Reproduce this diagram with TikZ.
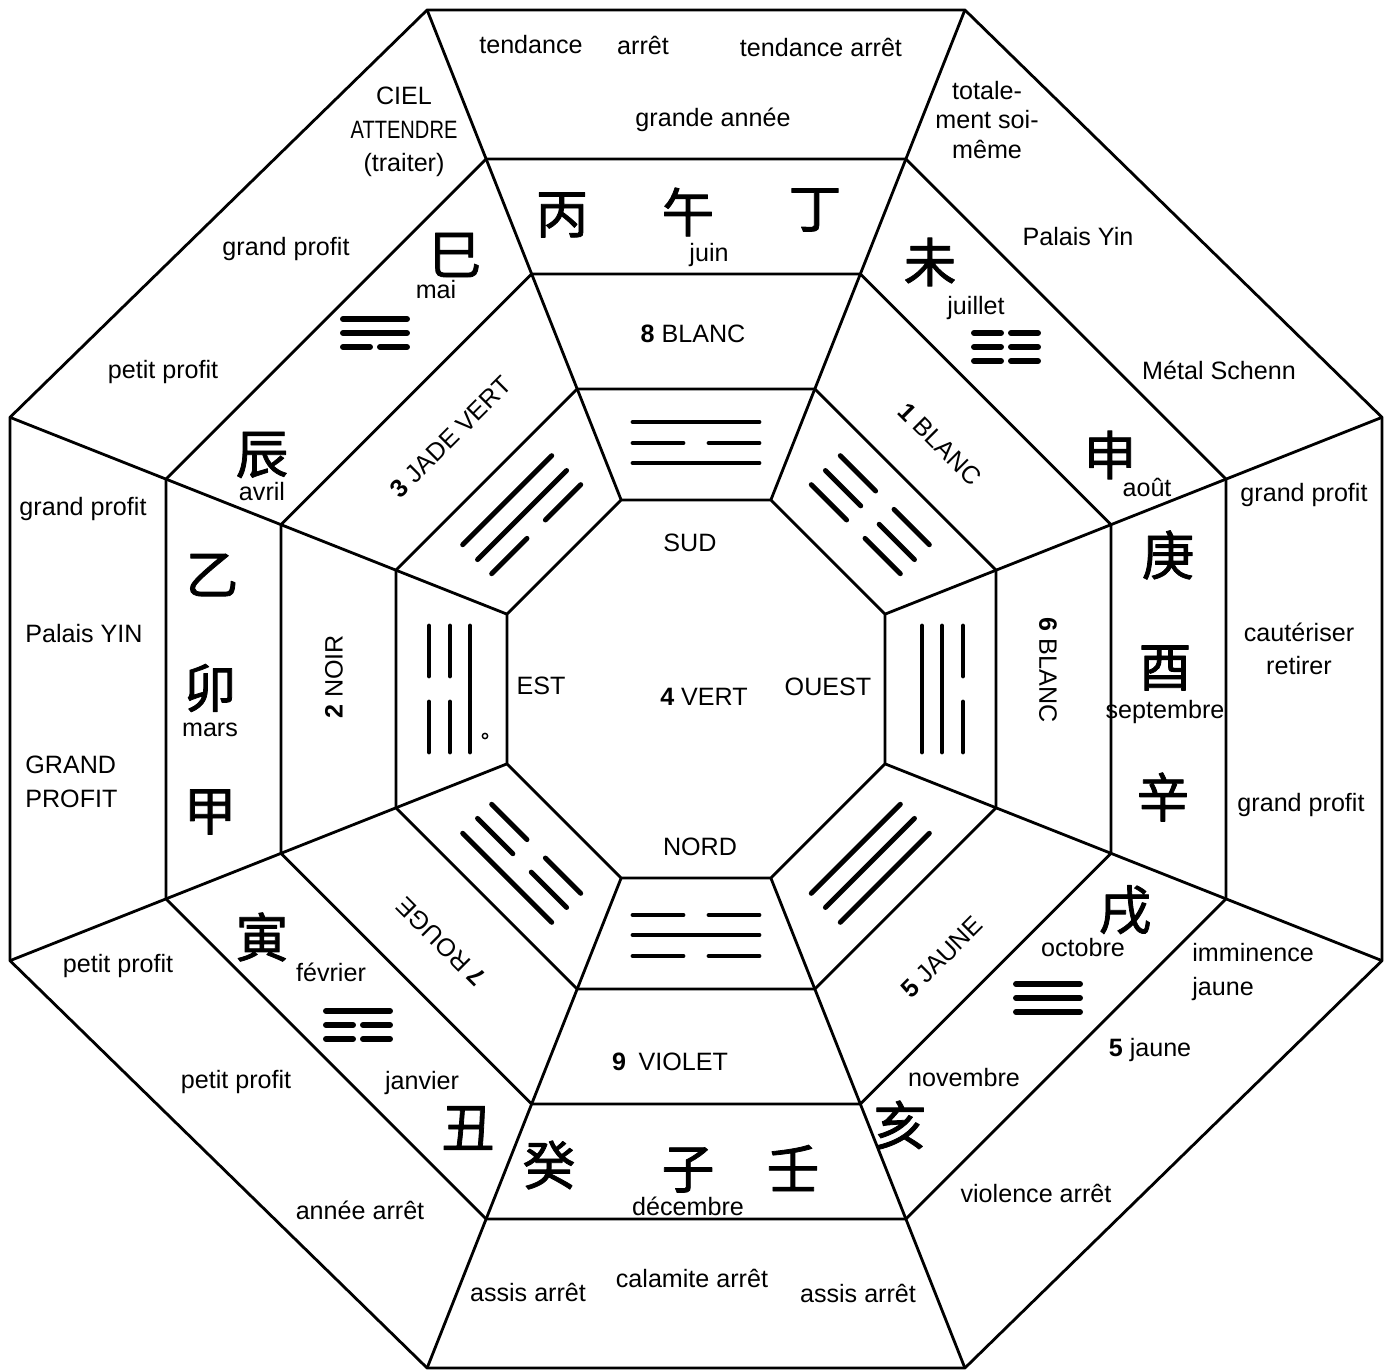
\documentclass[tikz,border=0pt]{standalone}
\usepackage{fontspec}
\setmainfont{Liberation Sans}
\newfontfamily\hanfont[FakeBold=1.5]{Noto Sans CJK SC}
\usetikzlibrary{positioning}

\newcommand{\octa}[2]{({-0.396*#2},-#2) -- ({0.396*#2},-#2) -- (#1,{-0.396*#1}) -- (#1,{0.396*#1}) -- ({0.396*#2},#2) -- ({-0.396*#2},#2) -- (-#1,{0.396*#1}) -- (-#1,{-0.396*#1}) -- cycle}

\newcommand{\yao}[2]{%
    \ifnum#2=1
        \draw [yao] (#1,-63) -- (#1,63);
    \else
        \draw [yao] (#1,-63) -- (#1,-13) (#1,13) -- (#1,63);
    \fi}

\newcommand{\trigram}[4]{%
    \begin{scope}[rotate=#1]
        \yao{226}{#2}\yao{246}{#3}\yao{267}{#4}
    \end{scope}}

\newcommand{\smalltrigram}[5]{%
    \begin{scope}[shift={(#1,#2)}]
        \foreach \dy/\s in {-14/#3,0/#4,14/#5} {
            \ifnum\s=1
                \draw [smallyao] (-32,\dy) -- (32,\dy);
            \else
                \draw [smallyao] (-32,\dy) -- (-5,\dy) (5,\dy) -- (32,\dy);
            \fi
        }
    \end{scope}}

\begin{document}
\begin{tikzpicture}[x=0.02cm, y=-0.02cm, line join=round, node distance=0.8cm]
    \tikzstyle{ring} = [line width=1.6pt]
    \tikzstyle{yao} = [line width=2.8pt, line cap=round]
    \tikzstyle{smallyao} = [line width=3.4pt, line cap=round]
    \tikzstyle{txt} = [font=\fontsize{14.3}{19}\selectfont, inner sep=0pt, align=center]
    \tikzstyle{han} = [font=\hanfont\fontsize{30}{30}\selectfont, inner sep=0pt]

    \useasboundingbox (0,0) rectangle (1389,1371);

    \begin{scope}[shift={(696,689)}]
        \foreach \a in {189,300,415,530} \draw [ring] \octa{\a}{\a};
        \draw [ring] \octa{686}{679};
        \foreach \sx in {-1,1} \foreach \sy in {-1,1} {
            \draw [ring] ({\sx*0.396*189},{\sy*189}) -- ({\sx*0.396*679},{\sy*679});
            \draw [ring] ({\sx*189},{\sy*0.396*189}) -- ({\sx*686},{\sy*0.396*686});
        }

        \trigram{90}{1}{0}{1}
        \trigram{45}{0}{0}{0}
        \trigram{0}{1}{1}{0}
        \trigram{-45}{1}{1}{1}
        \trigram{-90}{0}{1}{0}
        \trigram{-135}{0}{0}{1}
        \trigram{180}{1}{0}{0}
        \trigram{135}{0}{1}{1}
    \end{scope}
    \draw [line width=0.8pt] (485,736) circle [radius=1.5pt];

    \smalltrigram{375}{333}{1}{1}{0}
    \smalltrigram{1006}{347}{0}{0}{0}
    \smalltrigram{1048}{998}{1}{1}{1}
    \smalltrigram{358}{1025}{1}{0}{0}

    % centre
    \node [txt] (sud) at (690,543) {SUD};
    \node [txt] (est) at (541,686) {EST};
    \node [txt] (vert4) at (704,697) {\textbf{4} VERT};
    \node [txt] (ouest) at (828,687) {OUEST};
    \node [txt] (nord) at (700,847) {NORD};

    \node [txt] (blanc8) at (693,334) {\textbf{8} BLANC};
    \node [txt, rotate=-45] (blanc1) at (940,444) {\textbf{1} BLANC};
    \node [txt, rotate=-90] (blanc6) at (1048,670) {\textbf{6} BLANC};
    \node [txt, rotate=45] (jaune5) at (942,957) {\textbf{5} JAUNE};
    \node [txt] (violet9) at (670,1062) {\textbf{9}\enspace VIOLET};
    \node [txt, rotate=135] (rouge7) at (441,942) {\textbf{7} ROUGE};
    \node [txt, rotate=90] (noir2) at (334,677) {\textbf{2} NOIR};
    \node [txt, rotate=45] (jade3) at (451,437) {\textbf{3} JADE VERT};

    % caracteres
    \node [han] (bing) at (562,215) {丙};
    \node [han] (wu) at (688,212) {午};
    \node [han] (ding) at (815,210) {丁};
    \node [txt] (juin) at (709,255) {juin};
    \node [han] (wei) at (930,262) {未};
    \node [txt] (juillet) at (976,308) {juillet};
    \node [han] (shen) at (1110,455) {申};
    \node [txt] (aout) at (1147,487) {août};
    \node [han] (geng) at (1168,555) {庚};
    \node [han] (you) at (1165,668) {酉};
    \node [txt, below of=you, node distance=0.88cm] (sept) {septembre};
    \node [han] (xin) at (1163,797) {辛};
    \node [han] (xu) at (1125,910) {戌};
    \node [txt] (oct) at (1083,948) {octobre};
    \node [txt] (nov) at (964,1078) {novembre};
    \node [han] (hai) at (900,1125) {亥};
    \node [han] (ren) at (793,1168) {壬};
    \node [han] (zi) at (688,1170) {子};
    \node [han] (gui) at (549,1165) {癸};
    \node [txt, below of=zi, node distance=0.72cm] (dec) {décembre};
    \node [han] (chou) at (468,1128) {丑};
    \node [txt] (janv) at (422,1083) {janvier};
    \node [han] (yin) at (262,937) {寅};
    \node [txt] (fevr) at (331,972) {février};
    \node [han] (jia) at (210,812) {甲};
    \node [han] (mao) at (210,688) {卯};
    \node [txt, below of=mao, node distance=0.84cm] (mars) {mars};
    \node [han] (yi) at (212,575) {乙};
    \node [han] (chen) at (262,455) {辰};
    \node [txt] (avril) at (262,492) {avril};
    \node [han] (si) at (455,255) {巳};
    \node [txt] (mai) at (436,290) {mai};

    % anneau exterieur
    \node [txt] (tend) at (531,45) {tendance};
    \node [txt] (arret) at (643,45) {arrêt};
    \node [txt] (tendarret) at (821,47) {tendance arrêt};
    \node [txt] (grandeannee) at (713,120) {grande année};
    \node [txt] (ciel) at (404,132) {CIEL\\\scalebox{0.8}[1]{ATTENDRE}\\(traiter)};
    \node [txt] (gpnw) at (286,249) {grand profit};
    \node [txt] (ppnw) at (163,372) {petit profit};
    \node [txt, font=\fontsize{14.3}{17}\selectfont] (totale) at (987,120) {totale-\\ment soi-\\même};
    \node [txt] (palaisyin) at (1078,237) {Palais Yin};
    \node [txt] (metal) at (1219,370) {Métal Schenn};
    \node [txt] (gpe1) at (1304,495) {grand profit};
    \node [txt] (cauter) at (1299,649) {cautériser\\retirer};
    \node [txt] (gpe2) at (1301,805) {grand profit};
    \node [txt, align=left, anchor=west] (immin) at (1192,972) {imminence\\jaune};
    \node [txt] (jaunelow) at (1150,1050) {\textbf{5} jaune};
    \node [txt] (violence) at (1036,1193) {violence arrêt};
    \node [txt] (assisl) at (528,1292) {assis arrêt};
    \node [txt] (calamite) at (692,1278) {calamite arrêt};
    \node [txt] (assisr) at (858,1293) {assis arrêt};
    \node [txt] (ppsw1) at (118,966) {petit profit};
    \node [txt] (ppsw2) at (236,1082) {petit profit};
    \node [txt] (annee) at (360,1210) {année arrêt};
    \node [txt] (gpw) at (83,509) {grand profit};
    \node [txt] (palaisYIN) at (84,634) {Palais YIN};
    \node [txt, align=left, anchor=west] (gpcaps) at (25,782) {GRAND\\PROFIT};
\end{tikzpicture}
\end{document}
